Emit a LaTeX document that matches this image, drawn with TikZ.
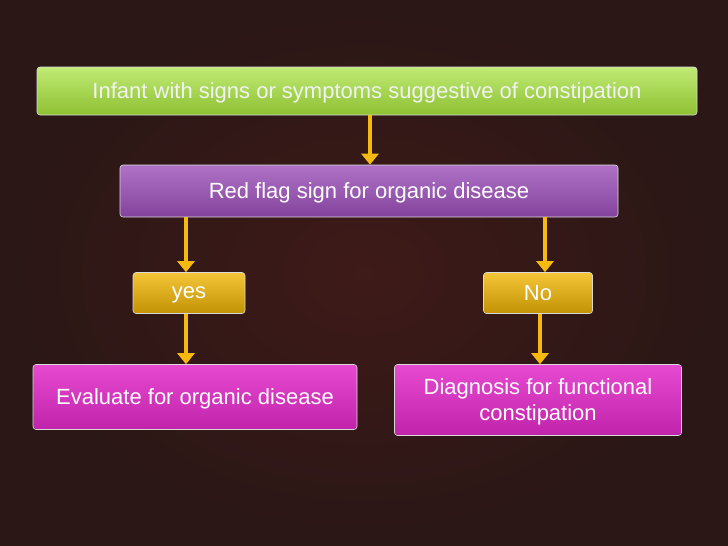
\documentclass[tikz,border=0pt]{standalone}
\usepackage{fontspec}
\setmainfont{Liberation Sans}
\usetikzlibrary{arrows.meta}
\definecolor{bgdark}{HTML}{2A1716}
\definecolor{bgred}{HTML}{3E1A18}
\definecolor{greenbox}{HTML}{A6E23A}
\definecolor{purplebox}{HTML}{9B4FB8}
\definecolor{orangebox}{HTML}{F2B705}
\definecolor{pinkbox}{HTML}{E22AC8}
\definecolor{arrowcol}{HTML}{F5B90F}
\tikzset{
  box/.style={draw=white!70!gray, line width=0.6pt, rounded corners=3pt, text=white, font=\fontsize{22}{26}\selectfont, inner sep=0pt, align=center, text depth=0.1em},
  flow/.style={-{Triangle[length=11pt,width=17pt]}, line width=4pt, draw=arrowcol}
}
\begin{document}
\begin{tikzpicture}[x=1pt,y=-1pt]
\fill[inner color=bgred, outer color=bgdark] (0,0) rectangle (728,546);
\useasboundingbox (0,0) rectangle (728,546);
% boxes
\node[box, top color=greenbox!70!white, bottom color=greenbox!85!black, minimum width=660pt, minimum height=48pt, text=white!90!gray] (infant) at (367,91) {Infant with signs or symptoms suggestive of constipation};
\node[box, top color=purplebox!80!white, bottom color=purplebox!85!black, minimum width=498pt, minimum height=52pt] (redflag) at (369,191) {Red flag sign for organic disease};
\node[box, top color=orangebox!80!white, bottom color=orangebox!80!black, minimum width=112pt, minimum height=41pt] (yes) at (189,293) {yes};
\node[box, top color=orangebox!80!white, bottom color=orangebox!80!black, minimum width=109pt, minimum height=41pt] (no) at (538,293) {No};
\node[box, top color=pinkbox!85!white, bottom color=pinkbox!85!black, minimum width=324pt, minimum height=65pt] (evaluate) at (195,397) {Evaluate for organic disease};
\node[box, top color=pinkbox!85!white, bottom color=pinkbox!85!black, minimum width=287pt, minimum height=71pt] (diagnosis) at (538,400) {Diagnosis for functional\\constipation};
% arrows
\draw[flow] (infant.south -| 370,0) -- (redflag.north -| 370,0);
\draw[flow] (redflag.south -| 186,0) -- (yes.north -| 186,0);
\draw[flow] (redflag.south -| 545,0) -- (no.north -| 545,0);
\draw[flow] (yes.south -| 186,0) -- (evaluate.north -| 186,0);
\draw[flow] (no.south -| 540,0) -- (diagnosis.north -| 540,0);
\end{tikzpicture}
\end{document}
